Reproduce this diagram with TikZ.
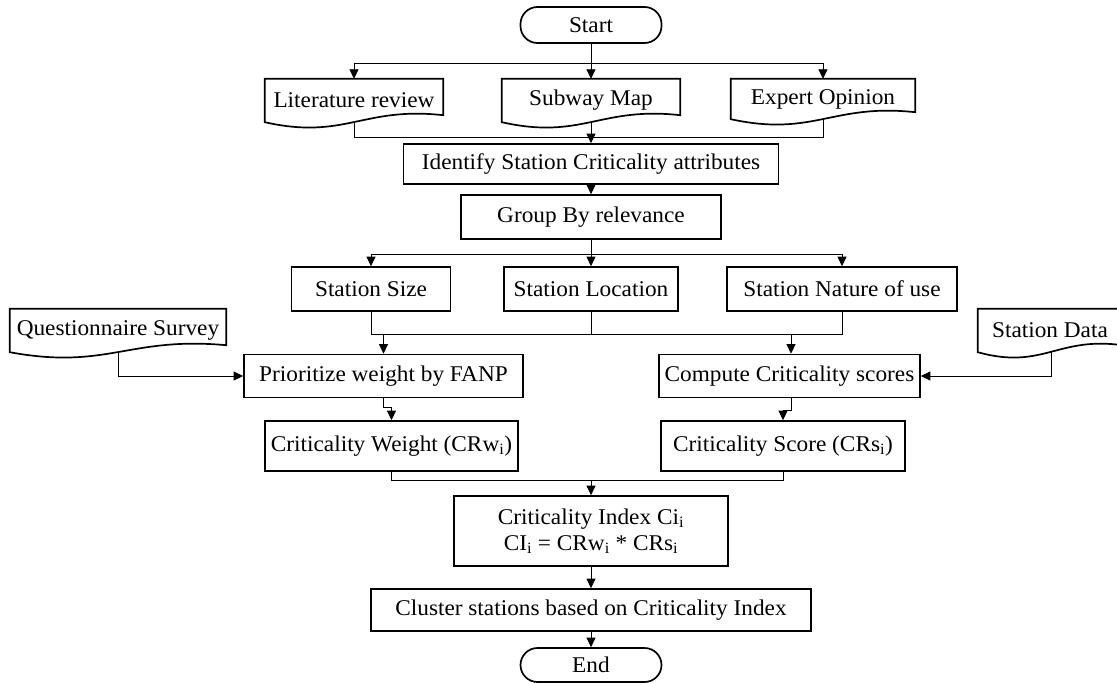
\documentclass[tikz,border=0pt]{standalone}
\usepackage{fontspec}
\setmainfont{Liberation Serif}[FakeStretch=1.035]
\usetikzlibrary{calc,arrows.meta}
\tikzset{
  boxline/.style={draw=black, line width=1.7pt},
  procbox/.style={boxline, rectangle, inner sep=0pt, align=center, font=\fontsize{22.5}{26}\selectfont},
  termbox/.style={procbox, rounded corners=17pt},
  docbox/.style={rectangle, inner sep=0pt, align=center, font=\fontsize{22.5}{26}\selectfont},
  conn/.style={draw=black, line width=0.8pt},
  arr/.style={conn, -{Triangle[width=9pt,length=9.5pt]}},
}
\newcommand\mydocshape[1]{%
  \draw[boxline, line join=miter] let \p1=(#1.south west), \p2=(#1.north east) in
    (\x1,\y1) -- (\x1,\y2) -- (\x2,\y2) -- (\x2,{\y1+7pt})
    .. controls ({\x1+0.55*(\x2-\x1)},{\y1+16pt}) and ({\x1+0.45*(\x2-\x1)},{\y1-18pt}) .. (\x1,\y1) -- cycle;}
\begin{document}
\begin{tikzpicture}[x=1pt,y=-1pt]
\useasboundingbox (0,0) rectangle (1117,683);
% nodes
\node[termbox, minimum width=141pt, minimum height=36pt] (start) at (591,25) {Start};
\node[docbox, minimum width=178pt, minimum height=43pt] (lit) at (354,100.5) {Literature review};
\node[docbox, minimum width=178pt, minimum height=43pt] (sub) at (591,100.5) {Subway Map};
\node[docbox, minimum width=184pt, minimum height=40pt] (exp) at (823,99) {Expert Opinion};
\mydocshape{lit}
\mydocshape{sub}
\mydocshape{exp}
\node[procbox, minimum width=375pt, minimum height=40pt] (ident) at (591,164) {Identify Station Criticality attributes};
\node[procbox, minimum width=260pt, minimum height=44pt] (group) at (591,217) {Group By relevance};
\node[procbox, minimum width=159pt, minimum height=44pt] (size) at (371,289) {Station Size};
\node[procbox, minimum width=174pt, minimum height=44pt] (loc) at (591,289) {Station Location};
\node[procbox, minimum width=230pt, minimum height=44pt] (nat) at (842,289) {Station Nature of use};
\node[docbox, minimum width=216pt, minimum height=43pt] (quest) at (118,330.5) {Questionnaire Survey};
\node[docbox, minimum width=144pt, minimum height=43pt] (sdata) at (1050,330.5) {Station Data};
\mydocshape{quest}
\mydocshape{sdata}
\node[procbox, minimum width=279pt, minimum height=43pt] (prio) at (383.5,376) {Prioritize weight by FANP};
\node[procbox, minimum width=261pt, minimum height=43pt] (comp) at (789.5,376) {Compute Criticality scores};
\node[procbox, minimum width=253pt, minimum height=50pt] (cw) at (391.5,446) {Criticality Weight (CRw\textsubscript{i})};
\node[procbox, minimum width=244pt, minimum height=50pt] (cs) at (783,446) {Criticality Score (CRs\textsubscript{i})};
\node[procbox, minimum width=274pt, minimum height=70pt] (ci) at (591,531) {Criticality Index Ci\textsubscript{i}\\CI\textsubscript{i} = CRw\textsubscript{i} * CRs\textsubscript{i}};
\node[procbox, minimum width=440pt, minimum height=42pt] (clus) at (591,610) {Cluster stations based on Criticality Index};
\node[termbox, minimum width=141pt, minimum height=34pt] (end) at (591,665) {End};
% helper coordinates
\coordinate (b1) at (591,63);
\coordinate (m1) at (591,137);
\coordinate (b2) at (591,254);
\coordinate (m2) at (591,334);
\coordinate (q1) at (118,376);
\coordinate (s1) at (1051,376);
\coordinate (j1) at (0,407);
\coordinate (j2) at (0,410);
\coordinate (m3) at (591,480);
% connectors
\draw[arr] (start.south) -- (sub.north);
\draw[conn] (lit.north |- b1) -- (exp.north |- b1);
\draw[arr] (lit.north |- b1) -- (lit.north);
\draw[arr] (exp.north |- b1) -- (exp.north);
\draw[arr] (sub.south) -- (ident.north);
\draw[conn] (lit.south) -- (lit.south |- m1) -- (exp.south |- m1) -- (exp.south);
\draw[arr] (ident.south) -- (group.north);
\draw[conn] (group.south) -- (b2);
\draw[conn] (size.north |- b2) -- (nat.north |- b2);
\draw[arr] (size.north |- b2) -- (size.north);
\draw[arr] (loc.north |- b2) -- (loc.north);
\draw[arr] (nat.north |- b2) -- (nat.north);
\draw[conn] (size.south) -- (size.south |- m2) -- (nat.south |- m2) -- (nat.south);
\draw[conn] (loc.south) -- (m2);
\draw[arr] (prio.north |- m2) -- (prio.north);
\draw[arr] ($(comp.north |- m2)+(1.5,0)$) -- ($(comp.north)+(1.5,0)$);
\draw[arr] (quest.south) -- (q1) -- (prio.west);
\draw[arr] (sdata.south -| s1) -- (s1) -- (comp.east);
\draw[arr] (prio.south) -- (prio.south |- j1) -- (cw.north |- j1) -- (cw.north);
\draw[arr] ($(comp.south)+(1.5,0)$) -- ($(comp.south |- j2)+(1.5,0)$) -- (cs.north |- j2) -- (cs.north);
\draw[conn] (cw.south) -- (cw.south |- m3) -- (cs.south |- m3) -- (cs.south);
\draw[arr] (m3) -- (ci.north);
\draw[arr] (ci.south) -- (clus.north);
\draw[arr] (clus.south) -- (end.north);
\end{tikzpicture}
\end{document}
